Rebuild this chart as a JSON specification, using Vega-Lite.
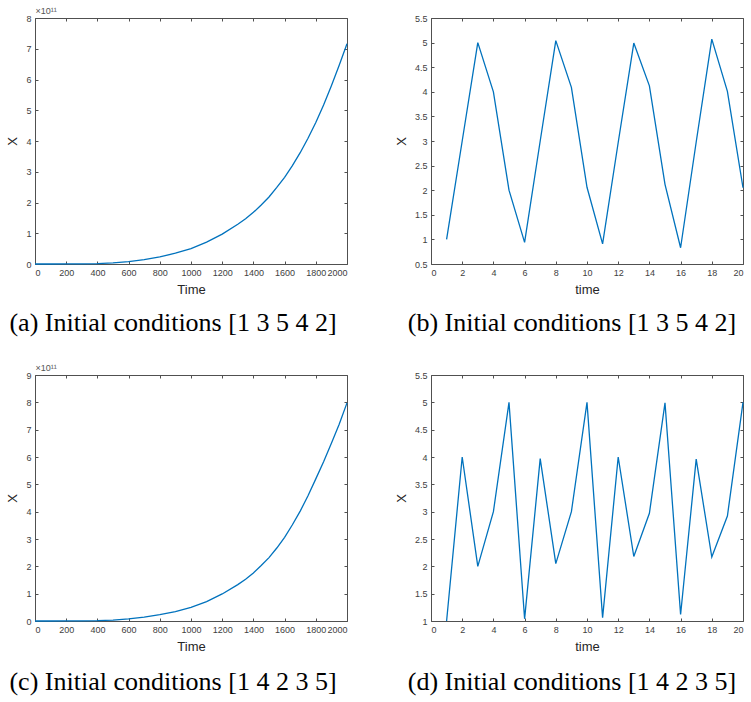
{
  "$schema": "https://vega.github.io/schema/vega-lite/v6.json",
  "padding": {"left": 6, "top": 5, "right": 2, "bottom": 2},
  "background": "white",
  "datasets": {
    "a": [
      {"t": 0, "v": 0}, {"t": 100, "v": 1e7}, {"t": 200, "v": 1e8}, {"t": 300, "v": 4e8},
      {"t": 400, "v": 1.3e9}, {"t": 500, "v": 3.5e9}, {"t": 600, "v": 7.5e9}, {"t": 700, "v": 1.4e10},
      {"t": 800, "v": 2.3e10}, {"t": 900, "v": 3.5e10}, {"t": 1000, "v": 5.0e10}, {"t": 1100, "v": 7.1e10},
      {"t": 1200, "v": 9.7e10}, {"t": 1300, "v": 1.29e11}, {"t": 1350, "v": 1.47e11}, {"t": 1400, "v": 1.68e11},
      {"t": 1450, "v": 1.92e11}, {"t": 1500, "v": 2.18e11}, {"t": 1550, "v": 2.49e11},
      {"t": 1600, "v": 2.82e11}, {"t": 1650, "v": 3.2e11}, {"t": 1700, "v": 3.62e11}, {"t": 1750, "v": 4.09e11},
      {"t": 1800, "v": 4.60e11}, {"t": 1850, "v": 5.17e11}, {"t": 1900, "v": 5.80e11}, {"t": 1950, "v": 6.46e11},
      {"t": 2000, "v": 7.16e11}
    ],
    "c": [
      {"t": 0, "v": 0}, {"t": 100, "v": 1e7}, {"t": 200, "v": 1e8}, {"t": 300, "v": 4e8},
      {"t": 400, "v": 1.3e9}, {"t": 500, "v": 3.5e9}, {"t": 600, "v": 7.5e9}, {"t": 700, "v": 1.4e10},
      {"t": 800, "v": 2.3e10}, {"t": 900, "v": 3.4e10}, {"t": 1000, "v": 5.0e10}, {"t": 1100, "v": 7.1e10},
      {"t": 1200, "v": 9.9e10}, {"t": 1300, "v": 1.33e11}, {"t": 1350, "v": 1.53e11}, {"t": 1400, "v": 1.76e11},
      {"t": 1450, "v": 2.03e11}, {"t": 1500, "v": 2.32e11}, {"t": 1550, "v": 2.67e11},
      {"t": 1600, "v": 3.06e11}, {"t": 1650, "v": 3.52e11}, {"t": 1700, "v": 4.02e11}, {"t": 1750, "v": 4.58e11},
      {"t": 1800, "v": 5.2e11}, {"t": 1850, "v": 5.83e11}, {"t": 1900, "v": 6.5e11}, {"t": 1950, "v": 7.2e11},
      {"t": 2000, "v": 7.98e11}
    ],
    "b": [
      {"t": 1, "v": 1}, {"t": 2, "v": 3}, {"t": 3, "v": 5}, {"t": 4, "v": 4}, {"t": 5, "v": 2},
      {"t": 6, "v": 0.94}, {"t": 7, "v": 3.0}, {"t": 8, "v": 5.04}, {"t": 9, "v": 4.09}, {"t": 10, "v": 2.06},
      {"t": 11, "v": 0.91}, {"t": 12, "v": 2.97}, {"t": 13, "v": 4.99}, {"t": 14, "v": 4.12}, {"t": 15, "v": 2.12},
      {"t": 16, "v": 0.83}, {"t": 17, "v": 2.98}, {"t": 18, "v": 5.07}, {"t": 19, "v": 4.01}, {"t": 20, "v": 2.05}
    ],
    "d": [
      {"t": 1, "v": 1}, {"t": 2, "v": 4}, {"t": 3, "v": 2}, {"t": 4, "v": 3}, {"t": 5, "v": 5},
      {"t": 6, "v": 1.04}, {"t": 7, "v": 3.97}, {"t": 8, "v": 2.05}, {"t": 9, "v": 3.0}, {"t": 10, "v": 5.0},
      {"t": 11, "v": 1.06}, {"t": 12, "v": 4.0}, {"t": 13, "v": 2.18}, {"t": 14, "v": 2.97}, {"t": 15, "v": 4.99},
      {"t": 16, "v": 1.12}, {"t": 17, "v": 3.96}, {"t": 18, "v": 2.17}, {"t": 19, "v": 2.92}, {"t": 20, "v": 5.0}
    ]
  },
  "columns": 2,
  "bounds": "flush",
  "spacing": {"row": 111, "column": 84},
  "concat": [
    {
      "width": 312, "height": 246,
      "title": {"text": "(a) Initial conditions [1 3 5 4 2]", "orient": "bottom", "offset": 14, "dx": -18},
      "data": {"name": "a"},
      "layer": [
        {
          "mark": {"type": "line"},
          "encoding": {
            "x": {"field": "t", "type": "quantitative", "scale": {"domain": [0, 2000], "nice": false},
                  "axis": {"values": [0, 200, 400, 600, 800, 1000, 1200, 1400, 1600, 1800, 2000], "format": "d", "title": "Time"}},
            "y": {"field": "v", "type": "quantitative", "scale": {"domain": [0, 8e11], "nice": false},
                  "axis": {"values": [0, 1e11, 2e11, 3e11, 4e11, 5e11, 6e11, 7e11, 8e11], "labelExpr": "format(datum.value/1e11, 'd')", "title": "X"}}
          }
        },
        {
          "mark": {"type": "line", "strokeOpacity": 0},
          "encoding": {
            "x": {"field": "t", "type": "quantitative", "scale": {"domain": [0, 2000], "nice": false},
                  "axis": {"orient": "top", "labels": false, "values": [0, 200, 400, 600, 800, 1000, 1200, 1400, 1600, 1800, 2000],
                           "title": "×10¹¹", "titleAnchor": "start", "titleAlign": "left", "titleX": 0, "titleY": -3, "titleFontSize": 9, "titleColor": "#555555"}},
            "y": {"field": "v", "type": "quantitative", "scale": {"domain": [0, 8e11], "nice": false},
                  "axis": {"orient": "right", "labels": false, "title": null, "values": [0, 1e11, 2e11, 3e11, 4e11, 5e11, 6e11, 7e11, 8e11]}}
          }
        }
      ],
      "resolve": {"axis": {"x": "independent", "y": "independent"}}
    },
    {
      "width": 312, "height": 246,
      "title": {"text": "(b) Initial conditions [1 3 5 4 2]", "orient": "bottom", "offset": 14, "dx": -15},
      "data": {"name": "b"},
      "layer": [
        {
          "mark": {"type": "line"},
          "encoding": {
            "x": {"field": "t", "type": "quantitative", "scale": {"domain": [0, 20], "nice": false},
                  "axis": {"values": [0, 2, 4, 6, 8, 10, 12, 14, 16, 18, 20], "title": "time"}},
            "y": {"field": "v", "type": "quantitative", "scale": {"domain": [0.5, 5.5], "nice": false, "zero": false},
                  "axis": {"values": [0.5, 1, 1.5, 2, 2.5, 3, 3.5, 4, 4.5, 5, 5.5], "format": "~g", "title": "X"}}
          }
        },
        {
          "mark": {"type": "line", "strokeOpacity": 0},
          "encoding": {
            "x": {"field": "t", "type": "quantitative", "scale": {"domain": [0, 20], "nice": false},
                  "axis": {"orient": "top", "labels": false, "title": null, "values": [0, 2, 4, 6, 8, 10, 12, 14, 16, 18, 20]}},
            "y": {"field": "v", "type": "quantitative", "scale": {"domain": [0.5, 5.5], "nice": false, "zero": false},
                  "axis": {"orient": "right", "labels": false, "title": null, "values": [0.5, 1, 1.5, 2, 2.5, 3, 3.5, 4, 4.5, 5, 5.5]}}
          }
        }
      ],
      "resolve": {"axis": {"x": "independent", "y": "independent"}}
    },
    {
      "width": 312, "height": 246,
      "title": {"text": "(c) Initial conditions [1 4 2 3 5]", "orient": "bottom", "offset": 16, "dx": -18},
      "data": {"name": "c"},
      "layer": [
        {
          "mark": {"type": "line"},
          "encoding": {
            "x": {"field": "t", "type": "quantitative", "scale": {"domain": [0, 2000], "nice": false},
                  "axis": {"values": [0, 200, 400, 600, 800, 1000, 1200, 1400, 1600, 1800, 2000], "format": "d", "title": "Time"}},
            "y": {"field": "v", "type": "quantitative", "scale": {"domain": [0, 9e11], "nice": false},
                  "axis": {"values": [0, 1e11, 2e11, 3e11, 4e11, 5e11, 6e11, 7e11, 8e11, 9e11], "labelExpr": "format(datum.value/1e11, 'd')", "title": "X"}}
          }
        },
        {
          "mark": {"type": "line", "strokeOpacity": 0},
          "encoding": {
            "x": {"field": "t", "type": "quantitative", "scale": {"domain": [0, 2000], "nice": false},
                  "axis": {"orient": "top", "labels": false, "values": [0, 200, 400, 600, 800, 1000, 1200, 1400, 1600, 1800, 2000],
                           "title": "×10¹¹", "titleAnchor": "start", "titleAlign": "left", "titleX": 0, "titleY": -3, "titleFontSize": 9, "titleColor": "#555555"}},
            "y": {"field": "v", "type": "quantitative", "scale": {"domain": [0, 9e11], "nice": false},
                  "axis": {"orient": "right", "labels": false, "title": null, "values": [0, 1e11, 2e11, 3e11, 4e11, 5e11, 6e11, 7e11, 8e11, 9e11]}}
          }
        }
      ],
      "resolve": {"axis": {"x": "independent", "y": "independent"}}
    },
    {
      "width": 312, "height": 246,
      "title": {"text": "(d) Initial conditions [1 4 2 3 5]", "orient": "bottom", "offset": 16, "dx": -15},
      "data": {"name": "d"},
      "layer": [
        {
          "mark": {"type": "line"},
          "encoding": {
            "x": {"field": "t", "type": "quantitative", "scale": {"domain": [0, 20], "nice": false},
                  "axis": {"values": [0, 2, 4, 6, 8, 10, 12, 14, 16, 18, 20], "title": "time"}},
            "y": {"field": "v", "type": "quantitative", "scale": {"domain": [1, 5.5], "nice": false, "zero": false},
                  "axis": {"values": [1, 1.5, 2, 2.5, 3, 3.5, 4, 4.5, 5, 5.5], "format": "~g", "title": "X"}}
          }
        },
        {
          "mark": {"type": "line", "strokeOpacity": 0},
          "encoding": {
            "x": {"field": "t", "type": "quantitative", "scale": {"domain": [0, 20], "nice": false},
                  "axis": {"orient": "top", "labels": false, "title": null, "values": [0, 2, 4, 6, 8, 10, 12, 14, 16, 18, 20]}},
            "y": {"field": "v", "type": "quantitative", "scale": {"domain": [1, 5.5], "nice": false, "zero": false},
                  "axis": {"orient": "right", "labels": false, "title": null, "values": [1, 1.5, 2, 2.5, 3, 3.5, 4, 4.5, 5, 5.5]}}
          }
        }
      ],
      "resolve": {"axis": {"x": "independent", "y": "independent"}}
    }
  ],
  "config": {
    "view": {"stroke": "#505050", "strokeWidth": 1},
    "axis": {
      "grid": false, "domain": false, "tickColor": "#505050", "tickSize": -3, "tickWidth": 1,
      "labelFont": "Liberation Sans", "labelFontSize": 9, "labelColor": "#404040", "labelPadding": 7, "labelOverlap": false,
      "titleFont": "Liberation Sans", "titleFontSize": 13, "titleFontWeight": "normal", "titleColor": "#262626", "titlePadding": 6
    },
    "title": {"font": "Liberation Serif", "fontSize": 26, "fontWeight": "normal", "color": "#000000"},
    "line": {"color": "#0072BD", "strokeWidth": 1.3}
  }
}
